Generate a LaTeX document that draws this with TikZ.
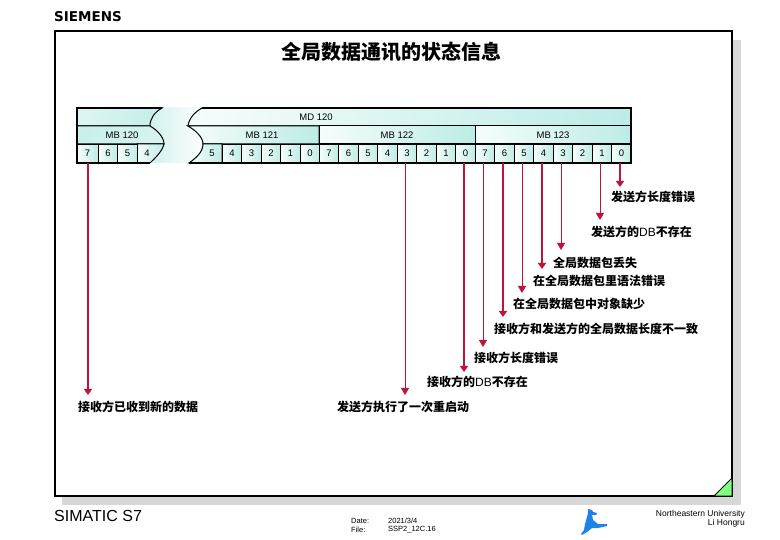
\documentclass[tikz,border=0pt]{standalone}
\usepackage{fontspec}
\setmainfont{Liberation Sans}
\newfontfamily\cjk{Noto Sans CJK SC}
\newfontfamily\logofont{DejaVu Sans}
\usetikzlibrary{positioning,arrows.meta}
\definecolor{redarrow}{RGB}{190,20,60}
\definecolor{cellcyan}{RGB}{188,236,230}
\definecolor{cellwhite}{RGB}{246,253,252}
\definecolor{shadowgray}{RGB}{215,215,215}
\definecolor{runnerblue}{RGB}{30,130,230}
\tikzset{
  bitcell/.style={draw=black,line width=1pt,left color=cellwhite,right color=cellcyan,minimum width=19.5pt,minimum height=18.5pt,inner sep=0pt,font=\fontsize{9.5}{10}\selectfont},
  bitlabel/.style={inner sep=0pt,font=\fontsize{9.5}{10}\selectfont},
  bytecell/.style={draw=black,line width=1pt,left color=cellwhite,right color=cellcyan,minimum height=18pt,inner sep=0pt,font=\fontsize{9.5}{10}\selectfont},
  partfill/.style={draw=black,line width=1pt,left color=cellwhite,right color=cellcyan},
  msg/.style={anchor=west,inner sep=0pt,font=\cjk\bfseries\fontsize{12}{12}\selectfont},
  thinarrow/.style={redarrow,line width=1pt,-{Triangle[length=7pt,width=8pt]}},
  thickarrow/.style={redarrow,line width=2pt,-{Triangle[length=6pt,width=8pt]}},
  smalltext/.style={inner sep=0pt,font=\fontsize{7.5}{9}\selectfont}
}
\newcommand{\dbtext}{{\mdseries\rmfamily DB}}
\begin{document}
\begin{tikzpicture}[x=1pt,y=-1pt]
\useasboundingbox (0,0) rectangle (780,540);

% page frame
\fill[shadowgray] (62,40) rectangle (741,505);
\draw[line width=2pt,fill=white] (55,31) rectangle (732,496);
\fill[green!50!white,draw=black,line width=1pt] (714,496) -- (732,478) -- (732,496) -- cycle;

\node[anchor=west,inner sep=0pt,font=\logofont\bfseries\fontsize{13.5}{14}\selectfont] (siemens) at (54,17) {SIEMENS};
\node[inner sep=0pt,font=\cjk\bfseries\fontsize{20}{20}\selectfont] (title) at (391,52) {全局数据通讯的状态信息};

% gap between the two parts
\shade[left color=cellcyan!70!white,right color=white] (150,108) rectangle (205,163);

% left part
\draw[partfill,left color=cellcyan!50!white,right color=cellcyan!90!white] (77,108) -- (162,108) .. controls (155,112) and (150,118) .. (150,126) -- (77,126) -- cycle;
\draw[partfill,left color=cellcyan!80!white,right color=cellcyan!60!white] (77,126) -- (150,126) .. controls (157,130) and (164,137) .. (164,144) -- (77,144) -- cycle;
\draw[partfill] (137,144) -- (164,144) .. controls (162,152) and (155,158) .. (150,163) -- (137,163) -- cycle;
\node[bitlabel] (mb120) at (122,135) {MB 120};
\node[bitcell,minimum width=21pt] (bit127) at (87.5,153.5) {7};
\node[bitcell] (bit126) at (108,153.5) {6};
\node[bitcell] (bit125) at (127.5,153.5) {5};
\node[bitlabel] (bit124) at (147,153.5) {4};

% right part
\draw[partfill] (202,108) -- (631,108) -- (631,126) -- (188,126) .. controls (189,118) and (195,112) .. (202,108) -- cycle;
\draw[partfill] (188,126) -- (319,126) -- (319,144) -- (203,144) .. controls (203,137) and (195,130) .. (188,126) -- cycle;
\draw[partfill] (203,144) -- (222,144) -- (222,163) -- (189,163) .. controls (196,158) and (203,152) .. (203,144) -- cycle;
\node[bitlabel] (md120) at (316,117) {MD 120};
\node[bitlabel] (mb121) at (262,135) {MB 121};
\node[bytecell,minimum width=156pt] (mb122) at (397,135) {MB 122};
\node[bytecell,minimum width=156pt] (mb123) at (553,135) {MB 123};

\node[bitlabel] (bit115) at (212,153.5) {5};
\node[bitcell] (bit114) at (232,153.5) {4};
\node[bitcell] (bit113) at (251.5,153.5) {3};
\node[bitcell] (bit112) at (271,153.5) {2};
\node[bitcell] (bit111) at (290.5,153.5) {1};
\node[bitcell] (bit110) at (310,153.5) {0};
\node[bitcell] (bit107) at (329,153.5) {7};
\node[bitcell] (bit106) at (348.5,153.5) {6};
\node[bitcell] (bit105) at (368,153.5) {5};
\node[bitcell] (bit104) at (387.5,153.5) {4};
\node[bitcell] (bit103) at (407,153.5) {3};
\node[bitcell] (bit102) at (426.5,153.5) {2};
\node[bitcell] (bit101) at (446,153.5) {1};
\node[bitcell] (bit100) at (465.5,153.5) {0};
\node[bitcell] (bit07) at (485,153.5) {7};
\node[bitcell] (bit06) at (504.5,153.5) {6};
\node[bitcell] (bit05) at (524,153.5) {5};
\node[bitcell] (bit04) at (543.5,153.5) {4};
\node[bitcell] (bit03) at (563,153.5) {3};
\node[bitcell] (bit02) at (582.5,153.5) {2};
\node[bitcell] (bit01) at (602,153.5) {1};
\node[bitcell] (bit00) at (621.5,153.5) {0};

% heavier outline of the strip
\draw[line width=1.6pt] (150,163) -- (77,163) -- (77,108) -- (162,108);
\draw[line width=1.6pt] (202,108) -- (631,108) -- (631,163) -- (189,163);

% messages
\node[msg] (lenerr) at (611,197) {发送方长度错误};
\node[msg] (nodb) at (591,232) {发送方的\dbtext 不存在};
\node[msg] (lost) at (553,263) {全局数据包丢失};
\node[msg] (syntax) at (533,281) {在全局数据包里语法错误};
\node[msg] (missing) at (513,304) {在全局数据包中对象缺少};
\node[msg] (differ) at (494,329) {接收方和发送方的全局数据长度不一致};
\node[msg] (rxlen) at (474,358) {接收方长度错误};
\node[msg] (rxdb) at (427,382) {接收方的\dbtext 不存在};
\node[msg] (restart) at (337,407) {发送方执行了一次重启动};
\node[msg] (newdata) at (78,407) {接收方已收到新的数据};

\coordinate (end00) at (620,187);
\coordinate (end01) at (600,220);
\coordinate (end03) at (561,250);
\coordinate (end04) at (542,269);
\coordinate (end05) at (522,293);
\coordinate (end06) at (503,317);
\coordinate (end07) at (483,347);
\coordinate (end100) at (464,372);
\coordinate (end103) at (405,395);
\coordinate (end127) at (88,395);

\draw[thickarrow] (end00 |- bit00.south) -- (end00);
\draw[thinarrow] (end01 |- bit01.south) -- (end01);
\draw[thinarrow] (end03 |- bit03.south) -- (end03);
\draw[thickarrow] (end04 |- bit04.south) -- (end04);
\draw[thinarrow] (end05 |- bit05.south) -- (end05);
\draw[thickarrow] (end06 |- bit06.south) -- (end06);
\draw[thinarrow] (end07 |- bit07.south) -- (end07);
\draw[thickarrow] (end100 |- bit100.south) -- (end100);
\draw[thinarrow] (end103 |- bit103.south) -- (end103);
\draw[thickarrow] (end127 |- bit127.south) -- (end127);

% footer
\node[anchor=west,inner sep=0pt,font=\fontsize{16}{16}\selectfont] (simatic) at (54,516) {SIMATIC S7};
\node[anchor=west,smalltext] (datekey) at (351,521) {Date:};
\node[anchor=west,smalltext] (filekey) at (351,530) {File:};
\node[anchor=west,smalltext] (dateval) at (388,521) {2021/3/4};
\node[anchor=west,smalltext] (fileval) at (388,530) {SSP2\_12C.16};
\node[anchor=east,smalltext,font=\fontsize{8.5}{9}\selectfont] (school) at (745,514) {Northeastern University};
\node[anchor=east,smalltext,font=\fontsize{8.5}{9}\selectfont] (person) at (745,523) {Li Hongru};
\fill[runnerblue] (588,509) -- (592,510) -- (593,512) -- (597,513) -- (596,515) -- (592,515) -- (593,520) -- (598,524) -- (607,524) -- (607,526) -- (598,528) -- (592,528) -- (587,532) -- (582,535) -- (581,534) -- (584,530) -- (585,524) -- (587,517) -- (588,513) -- cycle;
\end{tikzpicture}
\end{document}
